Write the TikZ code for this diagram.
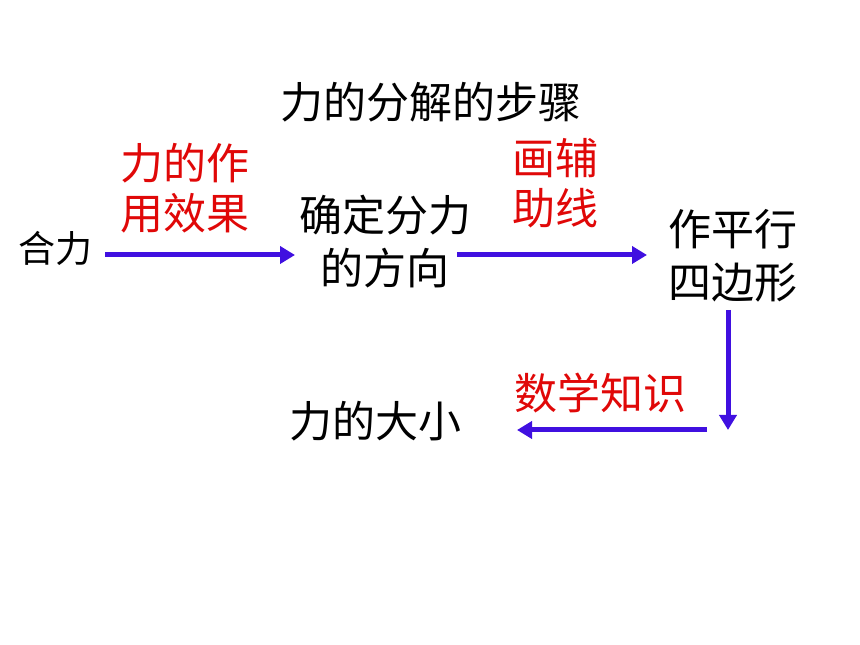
\documentclass[tikz,border=0pt]{standalone}
\usepackage{fontspec}
\setmainfont{Noto Sans CJK SC}
\usetikzlibrary{arrows.meta}
\definecolor{arrowblue}{HTML}{4010E0}
\definecolor{labelred}{HTML}{E00808}
\tikzset{
  blk/.style={font=\fontsize{43}{53}\selectfont, align=center, inner sep=0pt, text=black},
  small/.style={font=\fontsize{37}{45}\selectfont, inner sep=0pt, text=black},
  redlbl/.style={font=\fontsize{43}{50}\selectfont, align=center, inner sep=0pt, text=labelred},
  titlelbl/.style={font=\fontsize{43}{50}\selectfont, inner sep=0pt, text=black},
  conn/.style={draw=arrowblue, line width=5pt, -{Triangle[length=15pt,width=17pt]}}
}
\begin{document}
\begin{tikzpicture}[x=1pt,y=1pt]
\useasboundingbox (0,0) rectangle (860,645);
\node[titlelbl] (title) at (431,543) {力的分解的步骤};
\node[small] (hl) at (56,397) {合力};
\node[blk] (fx) at (385,403) {确定分力\\的方向};
\node[blk] (pxs) at (733,389) {作平行\\四边形};
\node[blk] (dx) at (375,224) {力的大小};
\node[redlbl] (l1) at (185,457) {力的作\\用效果};
\node[redlbl] (l2) at (555,462) {画辅\\助线};
\node[redlbl] (l3) at (600,252) {数学知识};
\coordinate (a1s) at (105,390);
\coordinate (a1e) at (295,390);
\coordinate (a2s) at (457,390);
\coordinate (a2e) at (647,390);
\coordinate (a3s) at (728,335);
\coordinate (a3e) at (728,215);
\coordinate (a4s) at (707,215);
\coordinate (a4e) at (517,215);
\draw[conn] (a1s) -- (a1e);
\draw[conn] (a2s) -- (a2e);
\draw[conn] (a3s) -- (a3e);
\draw[conn] (a4s) -- (a4e);
\end{tikzpicture}
\end{document}
